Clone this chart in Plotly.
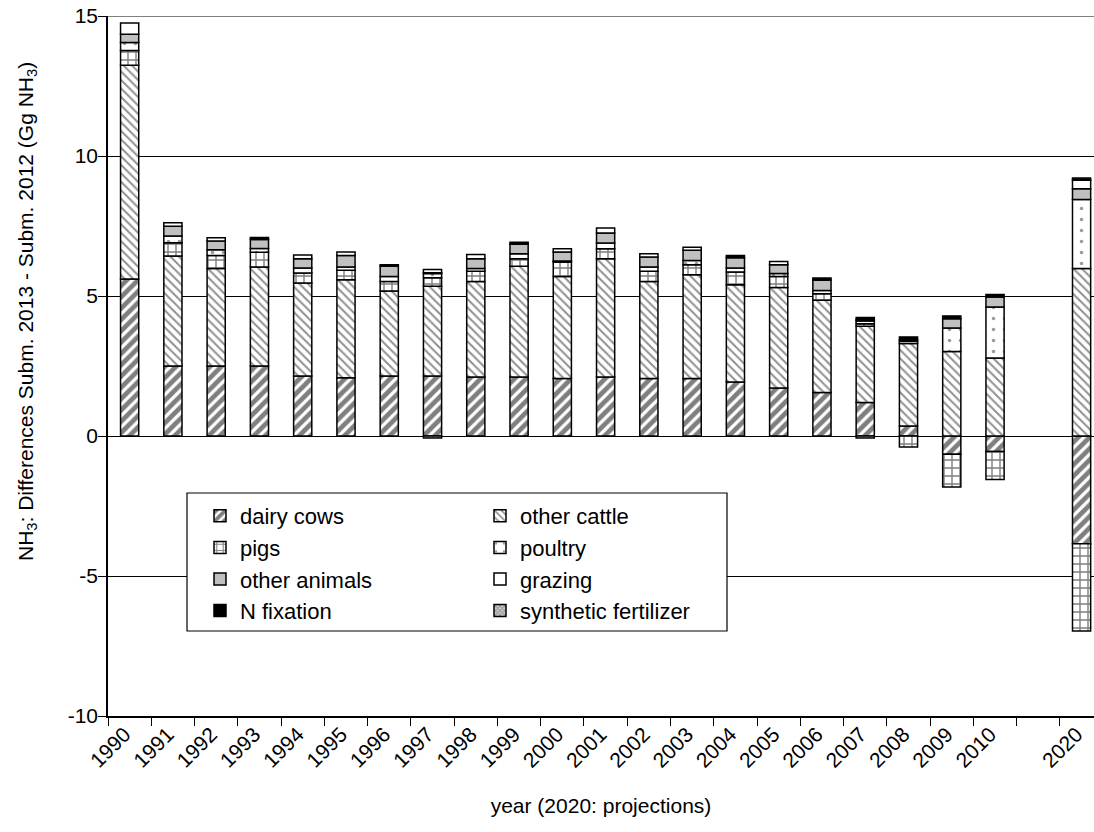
import plotly.graph_objects as go

# ---------------- data ----------------
categories = ['1990', '1991', '1992', '1993', '1994', '1995', '1996', '1997', '1998',
              '1999', '2000', '2001', '2002', '2003', '2004', '2005', '2006', '2007',
              '2008', '2009', '2010', '', '2020']

dairy_cows = [5.61, 2.50, 2.50, 2.50, 2.14, 2.08, 2.14, 2.14, 2.11, 2.11, 2.05, 2.11,
              2.05, 2.05, 1.93, 1.71, 1.55, 1.20, 0.36, -0.65, -0.55, None, -3.85]
other_cattle = [7.63, 3.93, 3.48, 3.54, 3.32, 3.50, 3.04, 3.21, 3.41, 3.95, 3.65, 4.22,
                3.47, 3.71, 3.47, 3.59, 3.30, 2.72, 2.94, 3.02, 2.79, None, 5.98]
pigs = [0.53, 0.47, 0.47, 0.52, 0.36, 0.34, 0.34, 0.30, 0.36, 0.27, 0.51, 0.36,
        0.36, 0.36, 0.46, 0.40, 0.23, 0.09, -0.39, -1.17, -1.00, None, -3.11]
poultry = [0.28, 0.24, 0.20, 0.14, 0.18, 0.12, 0.18, 0.15, 0.10, 0.18, 0.04, 0.20,
           0.16, 0.15, 0.14, 0.10, 0.12, 0.10, 0.08, 0.84, 1.82, None, 2.47]
other_animals = [0.30, 0.35, 0.31, 0.32, 0.33, 0.41, 0.36, 0.03, 0.35, 0.34, 0.32, 0.36,
                 0.35, 0.36, 0.37, 0.32, 0.36, 0.04, 0.05, 0.33, 0.35, None, 0.38]
grazing = [0.40, 0.13, 0.12, None, 0.13, 0.12, None, 0.12, 0.15, None, 0.12, 0.18,
           0.12, 0.11, None, 0.11, None, None, None, None, None, None, 0.30]
n_fixation = [None, None, None, 0.07, None, None, 0.06, None, None, 0.07, None, None,
              None, None, 0.08, None, 0.08, 0.08, 0.11, 0.10, 0.09, None, 0.08]
synthetic_fertilizer = [None, None, None, None, None, None, None, -0.07, None, None, None, None,
                        None, None, None, None, None, -0.07, None, None, None, None, None]

series_names = ['dairy cows', 'other cattle', 'pigs', 'poultry', 'other animals',
                'grazing', 'N fixation', 'synthetic fertilizer']
series_values = [dairy_cows, other_cattle, pigs, poultry, other_animals,
                 grazing, n_fixation, synthetic_fertilizer]

y_ticks = [-10, -5, 0, 5, 10, 15]
y_tick_labels = ['-10', '-5', '0', '5', '10', '15']

# ---------------- styles ----------------
styles = {
    'dairy cows': dict(color='white', pattern=dict(shape='/', fgcolor='black', size=8, solidity=0.6, fillmode='overlay'), legend='legend'),
    'other cattle': dict(color='white', pattern=dict(shape='\\', fgcolor='#222222', size=6, solidity=0.33, fillmode='overlay'), legend='legend2'),
    'pigs': dict(color='white', pattern=dict(shape='+', fgcolor='black', size=8, solidity=0.32, fillmode='overlay'), legend='legend'),
    'poultry': dict(color='white', pattern=dict(shape='.', fgcolor='#333333', size=11, solidity=0.08, fillmode='overlay'), legend='legend2'),
    'other animals': dict(color='#c0c0c0', pattern=None, legend='legend'),
    'grazing': dict(color='white', pattern=None, legend='legend2'),
    'N fixation': dict(color='black', pattern=None, legend='legend'),
    'synthetic fertilizer': dict(color='#d0d0d0', pattern=dict(shape='x', fgcolor='#555555', size=4, solidity=0.5, fillmode='overlay'), legend='legend2'),
}

FONT = 'Liberation Sans, Arial, sans-serif'
x = list(range(len(categories)))

fig = go.Figure()
for name, vals in zip(series_names, series_values):
    st = styles[name]
    marker = dict(color=st['color'], line=dict(color='black', width=1.5))
    if st['pattern'] is not None:
        marker['pattern'] = st['pattern']
    fig.add_trace(go.Bar(x=x, y=vals, name=name, width=0.42, marker=marker,
                         legend=st['legend'], legendgroup=name))

# figure geometry (page body margin removed via post_script)
W, H = 1094, 832
L, R, T, B = 108, 0, 16, 116
pw = W - L - R
ph = H - T - B
cat_px = 43.27
x_right = -0.5 + pw / cat_px

def px_x(p):  # screen pixel -> paper
    return (p - L) / pw

def px_y(p):
    return (H - B - p) / ph

tick_pos = [xi for xi, c in zip(x, categories) if c]
tick_txt = [c for c in categories if c]

fig.update_layout(
    width=W, height=H,
    margin=dict(l=L, r=R, t=T, b=B, autoexpand=False),
    barmode='relative',
    plot_bgcolor='white', paper_bgcolor='white',
    font=dict(family=FONT, size=21, color='black'),
    xaxis=dict(
        range=[-0.5, x_right], automargin=False,
        tickmode='array', tickvals=tick_pos, ticktext=tick_txt,
        tickangle=-45, ticks='outside', ticklen=1, tickcolor='rgba(0,0,0,0)',
        ticklabelstandoff=-5, ticklabelshift=-5,
        minor=dict(tickmode='linear', tick0=-0.5, dtick=1, ticks='outside', ticklen=8,
                   tickcolor='black', tickwidth=1, showgrid=False),
        showline=True, linecolor='black', linewidth=1.5,
        showgrid=False, zeroline=False,
        tickfont=dict(size=21),
        title=dict(text='year (2020: projections)', font=dict(size=21), standoff=28),
    ),
    yaxis=dict(
        range=[-10, 15], automargin=False,
        tickmode='array', tickvals=y_ticks, ticktext=y_tick_labels,
        ticks='outside', ticklen=8, tickcolor='black',
        showline=True, linecolor='black', linewidth=1.5,
        showgrid=True, gridcolor='black', gridwidth=1,
        zeroline=False, tickfont=dict(size=21),
        ticklabeloverflow='allow', ticklabelstandoff=-4,
    ),
    legend=dict(x=px_x(200), y=px_y(495), xanchor='left', yanchor='top',
                bgcolor='rgba(0,0,0,0)', borderwidth=0, tracegroupgap=0,
                font=dict(size=22), orientation='v'),
    legend2=dict(x=px_x(480), y=px_y(495), xanchor='left', yanchor='top',
                 bgcolor='rgba(0,0,0,0)', borderwidth=0, tracegroupgap=0,
                 font=dict(size=22), orientation='v'),
    showlegend=True,
)

# gray frame line at the top of the plot area, legend box
fig.add_shape(type='line', xref='paper', yref='y', x0=0, x1=1, y0=15, y1=15,
              line=dict(color='#808080', width=2), layer='above')
fig.add_shape(type='rect', xref='paper', yref='paper',
              x0=px_x(187), x1=px_x(727), y0=px_y(631), y1=px_y(493),
              line=dict(color='black', width=1.2), fillcolor='white', layer='above')

fig.add_annotation(
    text='NH<sub>3</sub>: Differences Subm. 2013 - Subm. 2012 (Gg NH<sub>3</sub>)',
    xref='paper', yref='paper', x=px_x(27), y=px_y(312), textangle=-90,
    showarrow=False, font=dict(size=21), xanchor='center', yanchor='middle')

fig.write_html('out.html', config={'displayModeBar': False},
               post_script="document.body.style.margin='0';")
